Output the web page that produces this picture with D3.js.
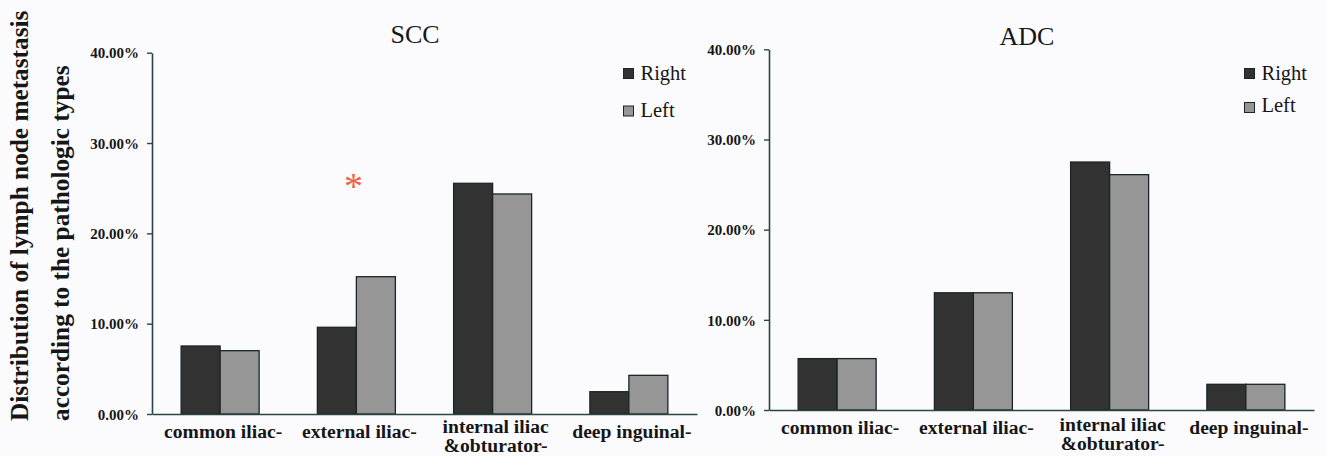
<!DOCTYPE html>
<html>
<head>
<meta charset="utf-8">
<script src="https://cdn.jsdelivr.net/npm/d3@7"></script>
<style>
  html, body { margin: 0; padding: 0; background: #fbfbfd; }
  svg { display: block; }
  svg text { font-family: "Liberation Serif", "Times New Roman", serif; fill: #161616; }
</style>
</head>
<body>
<svg id="chart" width="1326" height="456"></svg>
<script>
// ---- data ----
const categories = ["common iliac-", "external iliac-", "internal iliac\n&obturator-", "deep inguinal-"];
const seriesNames = ["Right", "Left"];
const sccRight = [7.53, 9.6, 25.54, 2.47];
const sccLeft  = [7.01, 15.2, 24.36, 4.28];
const adcRight = [5.7, 13.0, 27.5, 2.85];
const adcLeft  = [5.7, 13.0, 26.1, 2.85];
const yTicks = [0, 10, 20, 30, 40];
const panelTitles = ["SCC", "ADC"];
const yLabelLines = ["Distribution of lymph node metastasis", "according to the pathologic types"];

const colors = { Right: "#323232", Left: "#969696" };
const axisColor = "#2b4545";
const serif = "'Liberation Serif', 'Times New Roman', serif";
const svg = d3.select("#chart");

svg.append("rect").attr("width", 1326).attr("height", 456).attr("fill", "#fbfbfd");

// y-axis title (two rotated lines)
const yl = [{ x: 27.5 }, { x: 68.5 }];
yLabelLines.forEach((t, i) => {
  svg.append("text")
    .attr("transform", `translate(${yl[i].x},421) rotate(-90)`)
    .style("font-family", serif).style("font-size", "25.3px").style("font-weight", "bold")
    .text(t);
});

const panels = [
  { title: panelTitles[0], right: sccRight, left: sccLeft, x0: 152, x1: 697, y0: 414, y1: 52.7,
    titleX: 415, titleY: 42.7, legX: 623.5, legY: [68.5, 106], legTextY: [79.5, 116.5], star: true },
  { title: panelTitles[1], right: adcRight, left: adcLeft, x0: 769, x1: 1314, y0: 410, y1: 49.3,
    titleX: 1027, titleY: 45, legX: 1244.5, legY: [68.5, 102.5], legTextY: [79.5, 112], star: false }
];

panels.forEach(p => {
  const g = svg.append("g");
  const x = d3.scaleBand().domain(categories).range([p.x0, p.x1]).paddingInner(0.4275).paddingOuter(0.21375);
  const xs = d3.scaleBand().domain(seriesNames).range([0, x.bandwidth()]);
  const y = d3.scaleLinear().domain([0, 40]).range([p.y0, p.y1]);

  const rows = categories.map((c, i) => ({ cat: c, Right: p.right[i], Left: p.left[i] }));

  // bars
  const grp = g.selectAll("g.cat").data(rows).join("g")
    .attr("transform", d => `translate(${x(d.cat)},0)`);
  grp.selectAll("rect").data(d => seriesNames.map(s => ({ s, v: d[s] }))).join("rect")
    .attr("x", d => xs(d.s))
    .attr("width", xs.bandwidth())
    .attr("y", d => y(d.v))
    .attr("height", d => y(0) - y(d.v))
    .attr("fill", d => colors[d.s])
    .attr("stroke", "#1a2626").attr("stroke-width", 1.3);

  // y axis
  const ya = g.append("g").attr("transform", `translate(${p.x0},0)`)
    .call(d3.axisLeft(y).tickValues(yTicks).tickFormat(d => d3.format(".2f")(d) + "%").tickSize(5).tickSizeOuter(0).tickPadding(8));
  ya.attr("font-family", null).attr("font-size", null);
  ya.select(".domain").attr("stroke", axisColor).attr("stroke-width", 1.6);
  ya.selectAll(".tick line").attr("stroke", axisColor).attr("stroke-width", 1.4);
  ya.selectAll(".tick text")
    .style("font-family", serif).style("font-weight", "bold").style("font-size", "15px")
    .style("fill", "#161616").attr("dy", "0.35em");

  // x axis
  const xa = g.append("g").attr("transform", `translate(0,${p.y0})`)
    .call(d3.axisBottom(x).tickSize(0).tickSizeOuter(0).tickFormat(""));
  xa.attr("font-family", null).attr("font-size", null);
  xa.select(".domain").attr("stroke", axisColor).attr("stroke-width", 1.6);
  xa.selectAll(".tick").each(function(d) {
    const lines = d.split("\n");
    const t = d3.select(this).append("text")
      .style("font-family", serif).style("font-weight", "bold").style("font-size", "19.6px")
      .style("fill", "#161616").attr("text-anchor", "middle").attr("x", 3);
    lines.forEach((ln, i) => {
      t.append("tspan").attr("x", 3)
        .attr("y", lines.length > 1 ? (p.y0 > 412 ? 19 : 21) + i * 18.5 : 23.5)
        .text(ln);
    });
  });

  // title
  g.append("text").attr("x", p.titleX).attr("y", p.titleY).attr("text-anchor", "middle")
    .style("font-family", serif).style("font-size", "26px").text(p.title);

  // legend
  seriesNames.forEach((s, i) => {
    g.append("rect").attr("x", p.legX).attr("y", p.legY[i]).attr("width", 10).attr("height", 10)
      .attr("fill", colors[s]).attr("stroke", "#1a2626").attr("stroke-width", 1);
    g.append("text").attr("x", p.legX + 17).attr("y", p.legTextY[i])
      .style("font-family", serif).style("font-size", "20.5px").text(s);
  });

  // significance marker
  if (p.star) {
    const cx = x(categories[1]) + x.bandwidth() / 2;
    g.append("text").attr("x", cx - 3).attr("y", 199).attr("text-anchor", "middle")
      .style("font-family", serif).style("font-size", "38px").style("fill", "#f0634a").text("*");
  }
});
</script>
</body>
</html>
